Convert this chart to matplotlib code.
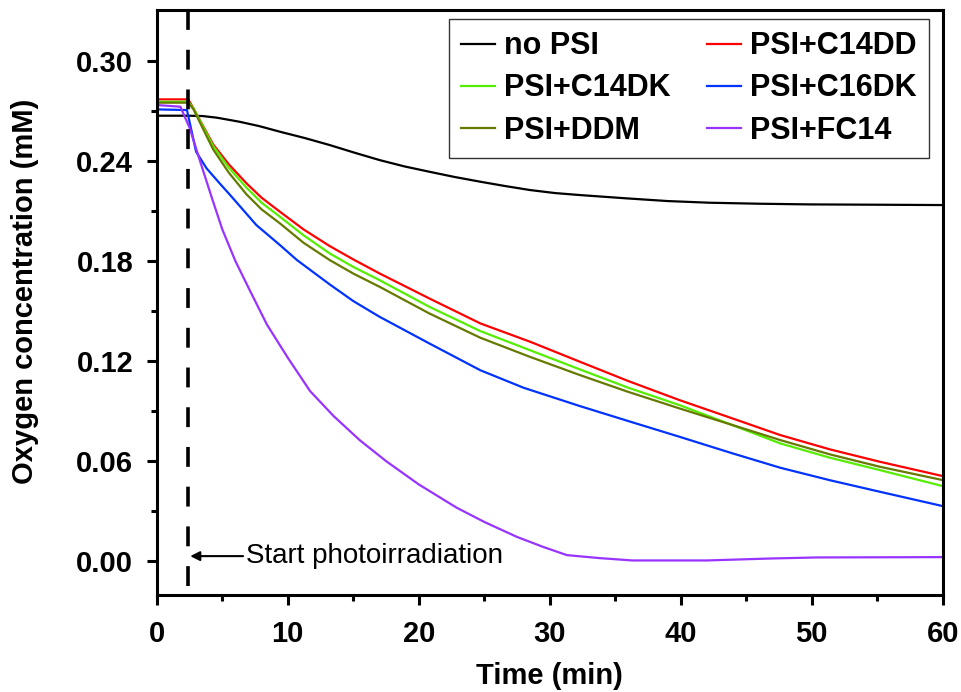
import matplotlib
matplotlib.use('Agg')
import matplotlib.pyplot as plt

plt.rcParams['font.family'] = ['Liberation Sans', 'DejaVu Sans']

# (time in min, O2 in mM)
t_nopsi = [0, 2.4, 3.5, 4.6, 6.3, 7.8, 9.4, 11.3, 13.2, 15.1, 17.0, 18.9, 20.8, 22.7,
           24.7, 26.6, 28.5, 30.4, 32.3, 35.9, 39.0, 42.2, 46.0, 49.8, 55.0, 60]
o2_nopsi = [0.2672, 0.2672, 0.2670, 0.2660, 0.2636, 0.2610, 0.2576, 0.2538, 0.2496,
            0.2450, 0.2406, 0.2368, 0.2336, 0.2305, 0.2276, 0.2250, 0.2226, 0.2208,
            0.2196, 0.2176, 0.2160, 0.2150, 0.2144, 0.2140, 0.2138, 0.2136]

t_mid = [0, 2.4, 2.8, 4.3, 5.5, 6.85, 8.0, 9.4, 11.2, 13.2, 15.0, 17.0, 20.8, 24.7,
         28.5, 32.3, 36.0, 39.9, 43.8, 47.6, 51.4, 55.2, 60]
o2_c14dd = [0.2770, 0.2770, 0.2716, 0.2500, 0.2380, 0.2266, 0.2180, 0.2096, 0.1990,
            0.1890, 0.1810, 0.1726, 0.1576, 0.1426, 0.1316, 0.1196, 0.1080, 0.0966,
            0.0860, 0.0756, 0.0670, 0.0596, 0.0510]
o2_c14dk = [0.2756, 0.2756, 0.2716, 0.2490, 0.2360, 0.2240, 0.2150, 0.2066, 0.1955,
            0.1846, 0.1765, 0.1686, 0.1526, 0.1380, 0.1265, 0.1150, 0.1040, 0.0936,
            0.0820, 0.0706, 0.0620, 0.0546, 0.0450]
o2_ddm = [0.2750, 0.2750, 0.2710, 0.2470, 0.2330, 0.2200, 0.2110, 0.2026, 0.1910,
          0.1806, 0.1725, 0.1646, 0.1486, 0.1340, 0.1225, 0.1116, 0.1015, 0.0916,
          0.0820, 0.0726, 0.0640, 0.0566, 0.0486]

t_c16dk = [0, 2.3, 3.0, 3.8, 4.8, 5.6, 7.6, 9.4, 10.7, 13.2, 15.0, 17.0, 20.8, 24.7,
           28.0, 32.3, 36.0, 39.9, 43.8, 47.6, 51.4, 55.2, 60]
o2_c16dk = [0.2710, 0.2706, 0.2456, 0.2356, 0.2266, 0.2196, 0.2016, 0.1896, 0.1806,
            0.1660, 0.1560, 0.1466, 0.1306, 0.1145, 0.1040, 0.0930, 0.0840, 0.0746,
            0.0650, 0.0560, 0.0485, 0.0416, 0.0330]

t_fc14 = [0, 1.8, 2.5, 3.3, 4.2, 5.0, 6.0, 7.0, 8.4, 10.0, 11.7, 13.5, 15.5, 17.5,
          20.0, 22.9, 25.0, 27.5, 29.5, 31.3, 33.8, 36.3, 42.0, 47.0, 50.4, 60]
o2_fc14 = [0.2736, 0.2726, 0.2600, 0.2400, 0.2180, 0.1990, 0.1800, 0.1640, 0.1420,
           0.1220, 0.1020, 0.0870, 0.0725, 0.0600, 0.0460, 0.0320, 0.0235, 0.0145,
           0.0085, 0.0036, 0.0018, 0.0004, 0.0004, 0.0016, 0.0022, 0.0024]

light_on = 2.4  # start of photoirradiation

fig = plt.figure(figsize=(9.62, 6.92), dpi=100)
ax = fig.add_axes([0.163, 0.140, 0.817, 0.8455])

lw = 1.6
l_no, = ax.plot(t_nopsi, o2_nopsi, color='black', lw=lw, label='no PSI')
l_dd, = ax.plot(t_mid, o2_c14dd, color='#ff0000', lw=lw, label='PSI+C14DD')
l_dk, = ax.plot(t_mid, o2_c14dk, color='#55ee00', lw=lw, label='PSI+C14DK')
l_16, = ax.plot(t_c16dk, o2_c16dk, color='#0033ff', lw=lw, label='PSI+C16DK')
l_ddm, = ax.plot(t_mid, o2_ddm, color='#667a00', lw=lw, label='PSI+DDM')
l_fc, = ax.plot(t_fc14, o2_fc14, color='#9933ff', lw=lw, label='PSI+FC14')

ax.plot([light_on, light_on], [-0.015, 0.33], color='black', lw=2.6, dashes=(5.5, 5.5))
ax.annotate('Start photoirradiation', xy=(light_on + 0.15, 0.003), xytext=(6.8, 0.003),
            fontsize=20, va='center', ha='left',
            arrowprops=dict(arrowstyle='-|>', color='black', lw=1.5,
                            mutation_scale=14, shrinkA=0, shrinkB=0))

ax.set_xlim(0, 60)
ax.set_ylim(-0.0204, 0.3306)
ax.set_xticks([0, 10, 20, 30, 40, 50, 60])
ax.set_xticks([5, 15, 25, 35, 45, 55], minor=True)
ax.set_yticks([0.00, 0.06, 0.12, 0.18, 0.24, 0.30])
ax.set_yticks([0.03, 0.09, 0.15, 0.21, 0.27], minor=True)
ax.set_yticklabels(['0.00', '0.06', '0.12', '0.18', '0.24', '0.30'])

for s in ax.spines.values():
    s.set_linewidth(2.2)
ax.tick_params(which='major', direction='out', length=7, width=2.2, labelsize=21)
ax.tick_params(which='minor', direction='out', length=4.5, width=2.2)
ax.tick_params(axis='y', which='major', pad=10)
ax.tick_params(axis='x', which='major', pad=11)
for lab in ax.get_xticklabels() + ax.get_yticklabels():
    lab.set_fontweight('bold')

ax.set_xlabel('Time (min)', fontsize=21, fontweight='bold', labelpad=10)
ax.set_ylabel('Oxygen concentration (mM)', fontsize=21, fontweight='bold')
ax.yaxis.set_label_coords(-0.150, 0.52)

handles = [l_no, l_dk, l_ddm, l_dd, l_16, l_fc]
leg = ax.legend(handles=handles, ncol=2, loc='upper right',
                prop={'weight': 'bold', 'size': 22}, handlelength=1.1, handletextpad=0.3,
                columnspacing=1.2, labelspacing=0.4, borderpad=0.4, borderaxespad=0,
                fancybox=False, edgecolor='#333333', framealpha=1,
                bbox_to_anchor=(0.982, 0.9846))
leg.get_frame().set_linewidth(1.0)

fig.savefig('out.png', dpi=100)
